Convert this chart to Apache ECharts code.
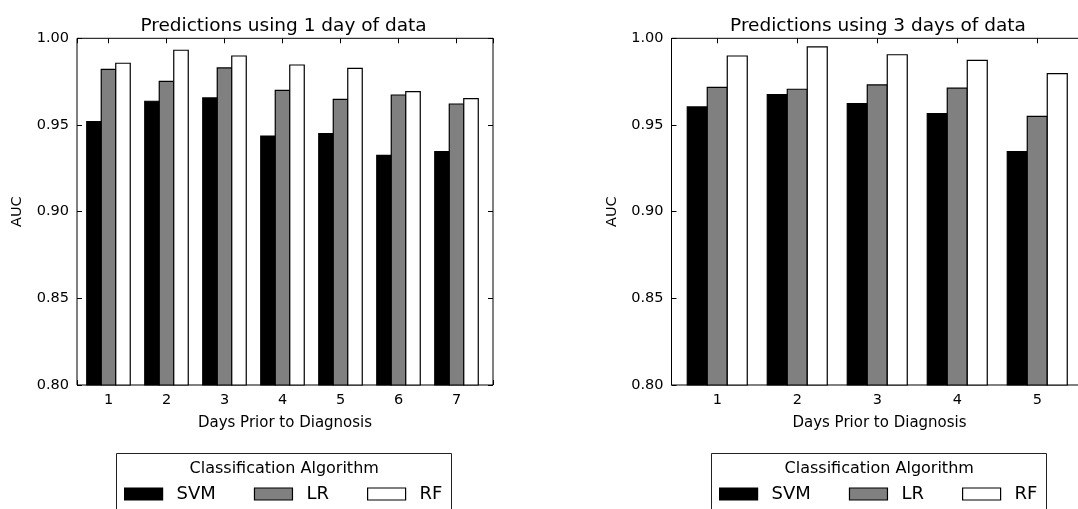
<!DOCTYPE html>
<html>
<head>
<meta charset="utf-8">
<script src="https://cdn.jsdelivr.net/npm/echarts@6/dist/echarts.min.js"></script>
<style>
html,body{margin:0;padding:0;background:#fff;}
#c{width:1078px;height:509px;}
</style>
</head>
<body>
<div id="c"></div>
<script>
// ---- data ----
const days1 = [1, 2, 3, 4, 5, 6, 7];
const svm1 = [0.952, 0.9637, 0.9656, 0.9436, 0.9450, 0.9325, 0.9346];
const lr1  = [0.9821, 0.9752, 0.9829, 0.9700, 0.9648, 0.9673, 0.9621];
const rf1  = [0.9856, 0.9931, 0.9898, 0.9846, 0.9827, 0.9692, 0.9652];

const days3 = [1, 2, 3, 4, 5];
const svm3 = [0.9604, 0.9675, 0.9623, 0.9565, 0.9346];
const lr3  = [0.9717, 0.9706, 0.9731, 0.9712, 0.9550];
const rf3  = [0.9898, 0.9950, 0.9905, 0.9873, 0.9796];

const seriesNames = ['SVM', 'LR', 'RF'];
const titles = ['Predictions using 1 day of data', 'Predictions using 3 days of data'];
const xAxisTitle = 'Days Prior to Diagnosis';
const yAxisTitle = 'AUC';
const legendTitle = 'Classification Algorithm';
const yMin = 0.80, yMax = 1.00, yStep = 0.05;

// ---- layout / style ----
const FONT = 'DejaVu Sans';
const BAR_W = 0.25;          // bar width in x-axis units (matplotlib style)
const grids = [
  { left: 77, top: 38.3, width: 416, height: 346.7, xmin: 0.457, xmax: 7.629 },
  { left: 671.5, top: 38.3, width: 416, height: 346.7, xmin: 0.428, xmax: 5.628 }
];
const colors = ['#000000', '#808080', '#ffffff'];

function xAxes(gi, g) {
  const base = {
    type: 'value', gridIndex: gi, min: g.xmin, max: g.xmax,
    splitLine: { show: false },
    axisLine: { show: false, onZero: false },
    axisTick: { show: true, inside: true, length: 5, lineStyle: { color: '#000', width: 1 } }
  };
  return [
    Object.assign({}, base, {
      position: 'bottom',
      name: xAxisTitle, nameLocation: 'middle', nameGap: 31,
      nameTextStyle: { fontSize: 15, color: '#000', fontFamily: FONT },
      axisLabel: { show: true, margin: 8, fontSize: 14.5, color: '#000', fontFamily: FONT,
        formatter: v => (Math.abs(v - Math.round(v)) < 1e-9 ? String(Math.round(v)) : '') }
    }),
    Object.assign({}, base, { position: 'top', axisLabel: { show: false } })
  ];
}
function yAxes(gi) {
  const base = {
    type: 'value', gridIndex: gi, min: yMin, max: yMax, interval: yStep,
    splitLine: { show: false },
    axisLine: { show: false, onZero: false },
    axisTick: { show: true, inside: true, length: 5, lineStyle: { color: '#000', width: 1 } }
  };
  return [
    Object.assign({}, base, {
      position: 'left',
      name: yAxisTitle, nameLocation: 'middle', nameGap: 52, nameRotate: 90,
      nameTextStyle: { fontSize: 14.5, color: '#000', fontFamily: FONT },
      axisLabel: { show: true, margin: 8, fontSize: 14.5, color: '#000', fontFamily: FONT,
        formatter: v => v.toFixed(2) }
    }),
    Object.assign({}, base, { position: 'right', axisLabel: { show: false } })
  ];
}

function barSeries(gi, days, arrs) {
  const n = arrs.length;
  return arrs.map((vals, k) => ({
    type: 'custom',
    name: seriesNames[k],
    xAxisIndex: gi * 2,
    yAxisIndex: gi * 2,
    data: days.map((d, i) => [d, vals[i]]),
    encode: { x: 0, y: 1 },
    itemStyle: { color: colors[k] },
    silent: true,
    renderItem: (params, api) => {
      const x = api.value(0), y = api.value(1);
      const x0 = x - BAR_W * n / 2 + k * BAR_W;
      const p0 = api.coord([x0, y]);
      const p1 = api.coord([x0 + BAR_W, yMin]);
      return {
        type: 'rect',
        shape: { x: p0[0], y: p0[1], width: p1[0] - p0[0], height: p1[1] - p0[1] },
        style: { fill: colors[k], stroke: '#000', lineWidth: 1.2 }
      };
    }
  }));
}

const legendBoxes = [
  { x: 116.5, cx: 284.2, itemLeft: 124 },
  { x: 711.5, cx: 879.2, itemLeft: 719 }
];

const option = {
  animation: false,
  backgroundColor: '#fff',
  textStyle: { fontFamily: FONT },
  title: titles.map((t, i) => ({
    text: t,
    left: grids[i].left + grids[i].width / 2 - 1.5,
    top: 16.5,
    padding: 0,
    textAlign: 'center',
    textStyle: { fontSize: 18.5, fontWeight: 'normal', color: '#000', fontFamily: FONT }
  })),
  grid: grids.map(g => ({
    left: g.left, top: g.top, width: g.width, height: g.height,
    show: true, borderColor: '#000', borderWidth: 1, backgroundColor: 'transparent',
    containLabel: false, outerBoundsMode: 'none'
  })),
  xAxis: [].concat(xAxes(0, grids[0]), xAxes(1, grids[1])),
  yAxis: [].concat(yAxes(0), yAxes(1)),
  legend: legendBoxes.map(b => ({
    data: seriesNames.map((nm, k) => ({
      name: nm,
      itemStyle: { color: colors[k], borderColor: '#000', borderWidth: 1.2 }
    })),
    left: b.itemLeft,
    top: 485,
    padding: 0,
    orient: 'horizontal',
    icon: 'rect',
    itemWidth: 38,
    itemHeight: 12,
    itemGap: 38,
    selectedMode: false,
    textStyle: { fontSize: 18, color: '#000', fontFamily: FONT, padding: [0, 0, 0, 9] }
  })),
  graphic: [].concat(...legendBoxes.map(b => [
    { type: 'rect', shape: { x: b.x, y: 453.5, width: 335, height: 80 },
      style: { fill: 'none', stroke: '#222', lineWidth: 1 }, silent: true },
    { type: 'text', x: b.cx, y: 469.3,
      style: { text: legendTitle, fontSize: 16, fontFamily: FONT, fill: '#000',
        textAlign: 'center', textVerticalAlign: 'middle' }, silent: true }
  ])),
  series: [].concat(barSeries(0, days1, [svm1, lr1, rf1]), barSeries(1, days3, [svm3, lr3, rf3]))
};

const chart = echarts.init(document.getElementById('c'), null, { renderer: 'canvas' });
chart.setOption(option);
</script>
</body>
</html>
